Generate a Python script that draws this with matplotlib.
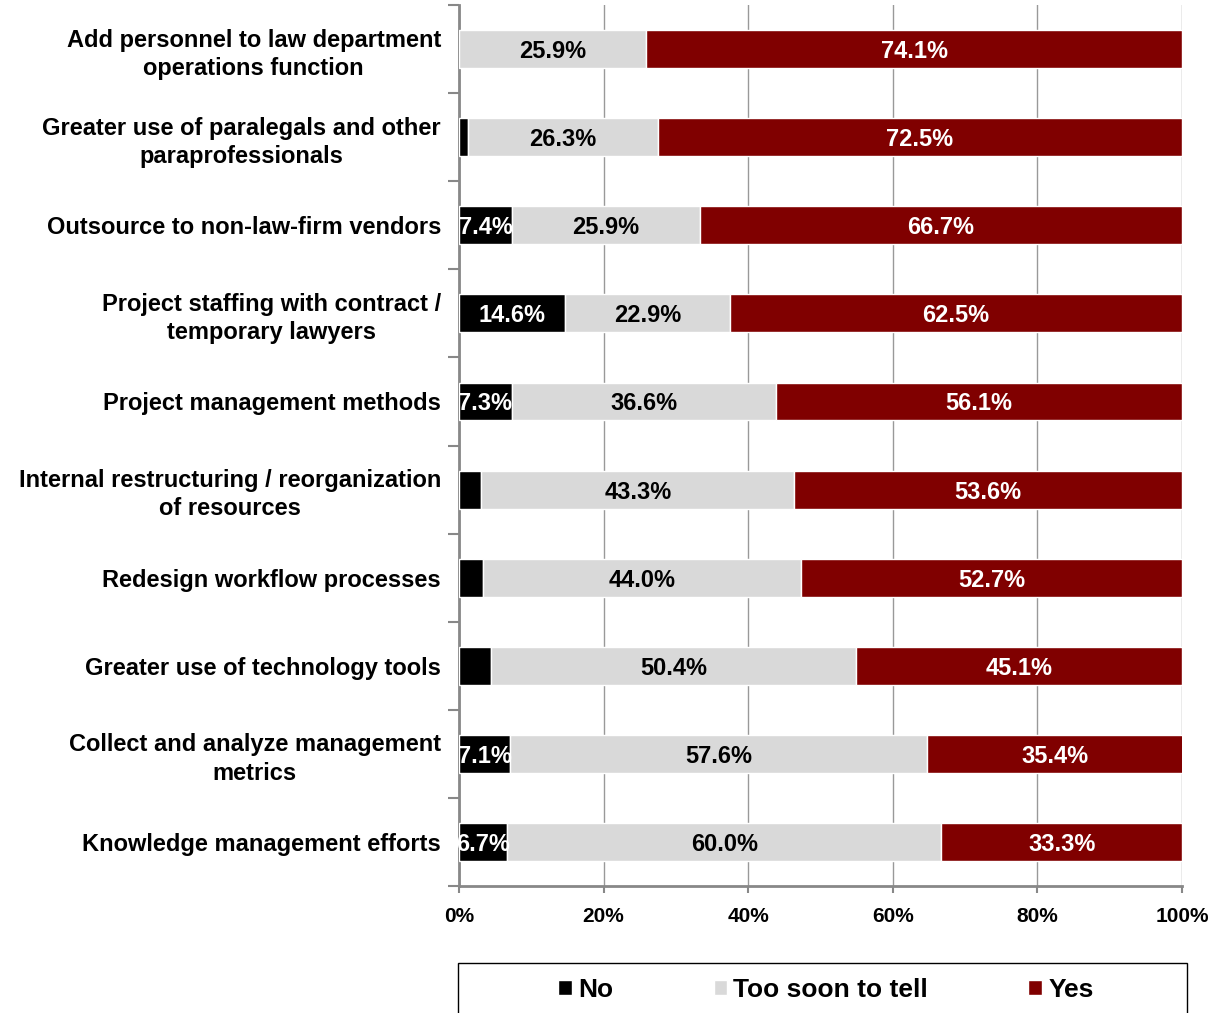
import numpy as np
import matplotlib.pyplot as plt
from matplotlib.patches import Rectangle

plt.rcParams['font.family'] = ['Liberation Sans', 'DejaVu Sans']
plt.rcParams['font.weight'] = 'bold'

# Data (percent)
categories = [
    'Add personnel to law department\noperations function',
    'Greater use of paralegals and other\nparaprofessionals',
    'Outsource to non-law-firm vendors',
    'Project staffing with contract /\ntemporary lawyers',
    'Project management methods',
    'Internal restructuring / reorganization\nof resources',
    'Redesign workflow processes',
    'Greater use of technology tools',
    'Collect and analyze management\nmetrics',
    'Knowledge management efforts',
]
no_vals = [0.0, 1.2, 7.4, 14.6, 7.3, 3.1, 3.3, 4.5, 7.1, 6.7]
soon_vals = [25.9, 26.3, 25.9, 22.9, 36.6, 43.3, 44.0, 50.4, 57.6, 60.0]
yes_vals = [74.1, 72.5, 66.7, 62.5, 56.1, 53.6, 52.7, 45.1, 35.4, 33.3]
series_names = ['No', 'Too soon to tell', 'Yes']
colors = ['#000000', '#D9D9D9', '#800000']
label_colors = ['white', 'black', 'white']

fig = plt.figure(figsize=(12.19, 10.13), dpi=100)
ax = fig.add_axes([0.3765, 0.1254, 0.5932, 0.8696])

y = np.arange(len(categories))
left = np.zeros(len(categories))
handles = []
for vals, name, col, lc in zip([no_vals, soon_vals, yes_vals], series_names, colors, label_colors):
    vals = np.array(vals)
    bars = ax.barh(y, vals, left=left, height=0.43, color=col, edgecolor='white',
                   linewidth=1, label=name, zorder=3)
    handles.append(bars)
    for yi, l, v in zip(y, left, vals):
        if v >= 5:
            ax.text(l + v / 2, yi, f'{v:.1f}%', ha='center', va='center_baseline', color=lc,
                    fontsize=17, fontweight='bold', zorder=4)
    left = left + vals

ax.set_xlim(0, 100)
ax.set_ylim(len(categories) - 0.5, -0.5)
ax.set_xticks(np.arange(0, 101, 20))
ax.set_xticklabels([f'{v}%' for v in range(0, 101, 20)], fontsize=15, fontweight='bold')
ax.set_yticks(y)
ax.set_yticklabels(categories, fontsize=17, fontweight='bold', linespacing=1.3,
                   multialignment='center')
ax.set_yticks(np.arange(-0.5, len(categories), 1), minor=True)
ax.tick_params(axis='y', which='major', length=0, pad=13)
ax.tick_params(axis='y', which='minor', length=8, width=1.5, color='#888888', direction='out')
ax.tick_params(axis='x', length=5, width=1.5, color='#888888', direction='out', pad=10)

ax.grid(axis='x', color='#999999', linewidth=1, zorder=0)
for s in ['top', 'right']:
    ax.spines[s].set_visible(False)
for s in ['left', 'bottom']:
    ax.spines[s].set_color('#888888')
    ax.spines[s].set_linewidth(2)

# legend box
fig.patches.append(Rectangle((458 / 1219, -0.02), 729 / 1219, 0.02 + (1013 - 963) / 1013,
                             transform=fig.transFigure, facecolor='none',
                             edgecolor='black', linewidth=1))
fig.legend(handles=handles, labels=series_names, loc='center',
           bbox_to_anchor=(826 / 1219, 1 - 990 / 1013), ncol=3, frameon=False,
           handlelength=0.5, handleheight=0.5, handletextpad=0.25,
           columnspacing=3.8, prop={'weight': 'bold', 'size': 19})

fig.savefig('out.png', dpi=100)
